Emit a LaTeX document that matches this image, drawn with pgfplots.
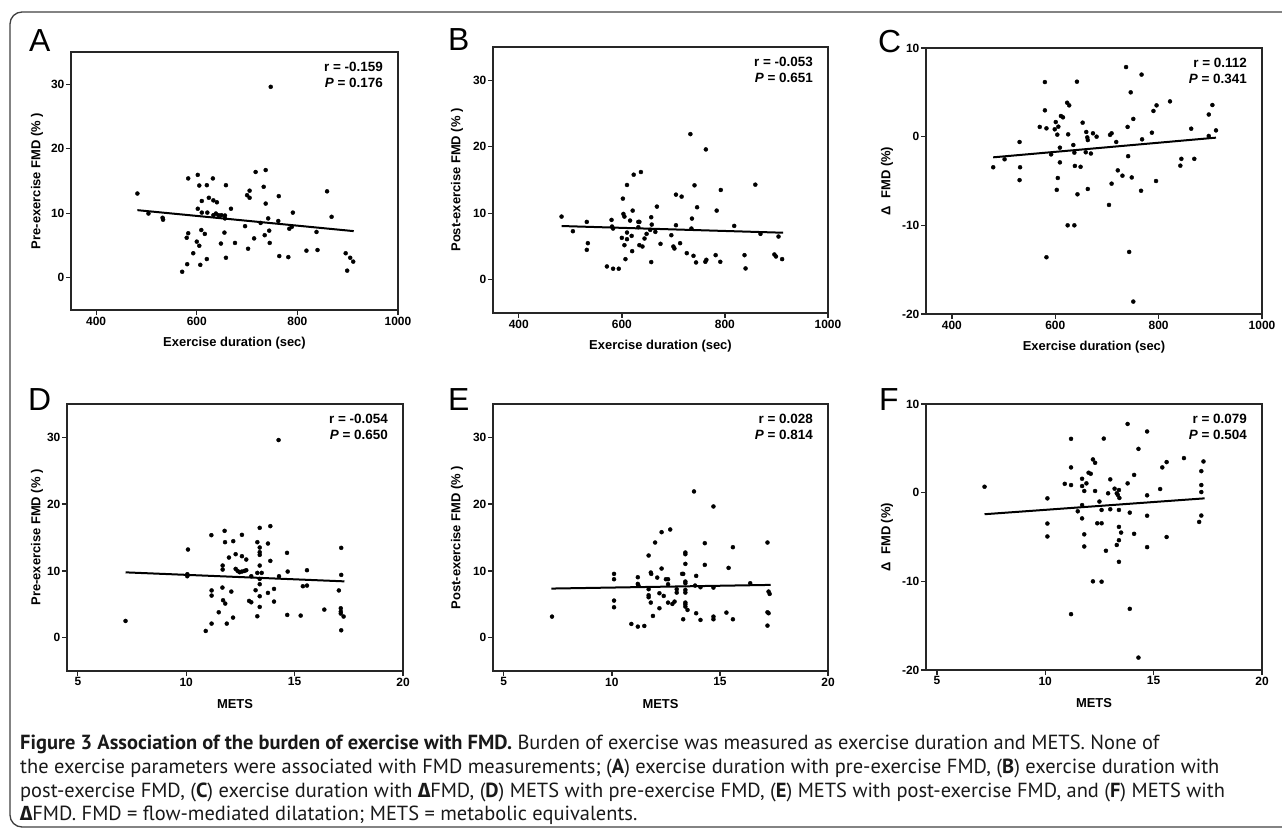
\documentclass[border=0pt]{standalone}
\usepackage{fontspec}
\setmainfont{Liberation Sans}
\newfontfamily\capfont{PT Sans}
\newfontfamily\grk{Fira Sans}
\usepackage{pgfplots}
\pgfplotsset{compat=1.18}

\pgfplotsset{
  panel/.style={
    scale only axis, anchor=south west,
    axis line style={line width=1.6bp, black!85},
    tick pos=left, tick align=outside,
    major tick length=5bp,
    tick style={line width=1.3bp, black!85},
    ticklabel style={font=\fontsize{12}{12}\selectfont\bfseries, inner sep=1.5bp},
    /pgf/number format/assume math mode=true,
    /pgf/number format/1000 sep={},
    label style={font=\fontsize{13}{13}\selectfont\bfseries},
    xlabel style={at={([yshift=-33bp]axis description cs:0.5,0)}, anchor=center},
  },
  dur/.style={xmin=350, xmax=1000, xtick={400,600,800,1000}, xlabel={Exercise duration (sec)}},
  mets/.style={xmin=4.5, xmax=20, xtick={5,10,15,20}, xlabel={METS}},
  fmd/.style={ymin=-5, ymax=35, ytick={0,10,20,30}},
  dfmd/.style={ymin=-20, ymax=10, ytick={-20,-10,0,10}},
  ylab/.style={ylabel style={at={([xshift=-#1bp]axis description cs:0,0.5)}, anchor=center}},
  dots/.style={only marks, mark=*, mark size=2bp, black},
  fit/.style={no marks, line width=2bp, black},
}
\newcommand\stat[2]{\node[anchor=north east, align=right, inner sep=0pt,
  font=\fontsize{13.5}{15.5}\selectfont\bfseries]
  at ([xshift=-15bp,yshift=-10bp]rel axis cs:1,1) {r = #1\\\textit{P} = #2};}

\begin{document}
\begin{tikzpicture}
\useasboundingbox (0,0) rectangle (1282bp,-832bp);
\draw[line width=1.3bp, black!75, rounded corners=12bp]
  (1300bp,-12bp) -- (10bp,-12bp) -- (10bp,-827bp) -- (1300bp,-827bp);

% A
\begin{axis}[panel, dur, fmd, ylab=34, at={(71bp,-310bp)}, width=327bp, height=258bp,
  ylabel={Pre-exercise FMD (\% )}]
\addplot[dots] coordinates {
(482,13.06)(504,9.96)(532,9.3)(533,9.0)(583,15.4)(580,6.2)(583,6.9)(593,3.8)(581,2.1)(571,0.93)
(602,15.95)(605,14.3)(610,11.9)(602,10.7)(610,10.1)(600,5.6)(605,4.96)(609,7.4)(616,6.8)(607,2.0)
(620,2.9)(620,14.35)(621,10.1)(624,12.4)(632,15.4)(633,12.0)(640,11.7)(633,9.7)(638,9.96)(643,9.7)
(649,9.7)(656,9.65)(656,9.2)(648,5.3)(658,14.35)(655,7.0)(658,3.1)(668,10.7)(676,5.4)(696,8.0)
(700,12.8)(705,12.4)(705,13.5)(702,4.5)(714,6.1)(717,16.4)(727,8.5)(733,14.1)(737,16.7)(737,11.5)
(735,6.6)(742,9.2)(744,7.3)(745,5.4)(747,29.6)(763,12.65)(762,8.8)(764,3.36)(782,3.2)(784,7.6)
(789,7.9)(791,10.1)(818,4.2)(838,7.1)(840,4.3)(859,13.4)(868,9.45)(896,3.8)(905,3.1)(911,2.5)
(899,1.1)
};
\addplot[fit] coordinates {(482,10.48)(912,7.23)};
\stat{-0.159}{0.176}
\end{axis}

% B
\begin{axis}[panel, dur, fmd, ylab=36, at={(493bp,-313bp)}, width=335bp, height=266bp,
  ylabel={Post-exercise FMD (\% )}]
\addplot[dots] coordinates {
(483,9.5)(505,7.3)(532,8.7)(534,5.5)(532,4.5)(571,2.0)(583,1.66)(594,1.66)(580,9.0)(581,8.0)
(583,7.7)(602,12.2)(610,14.25)(603,9.9)(605,9.5)(600,6.3)(605,5.2)(607,3.1)(610,7.1)(610,6.1)
(616,8.9)(619,6.6)(620,4.3)(621,10.4)(623,15.8)(637,16.2)(632,8.7)(634,8.7)(632,7.9)(634,5.2)
(640,5.0)(644,6.2)(648,6.9)(655,7.5)(657,9.4)(658,8.3)(657,2.66)(665,7.2)(668,11.0)(675,5.4)
(696,6.7)(700,5.0)(702,4.7)(705,12.8)(705,8.2)(716,12.5)(713,5.5)(726,4.0)(733,21.9)(736,9.2)
(735,7.7)(739,3.6)(741,14.2)(746,10.9)(744,2.6)(763,19.6)(762,2.7)(764,3.0)(782,3.7)(784,10.4)
(791,2.7)(792,13.5)(818,8.1)(838,3.7)(840,1.7)(859,14.3)(869,6.9)(896,3.8)(899,3.5)(904,6.5)
(911,3.1)
};
\addplot[fit] coordinates {(483,8.08)(913,7.07)};
\stat{-0.053}{0.651}
\end{axis}

% C
\begin{axis}[panel, dur, dfmd, ylab=39, at={(926bp,-314bp)}, width=336bp, height=266bp,
  ylabel={Δ\ \ FMD (\%)}]
\addplot[dots] coordinates {
(480,-3.45)(502,-2.55)(531,-0.6)(532,-3.45)(531,-4.9)(570,1.1)(580,6.16)(580,2.97)(583,0.94)(583,-13.6)
(592,-2.0)(599,0.83)(601,1.65)(604,0.23)(606,1.13)(605,-4.66)(603,-6.0)(609,-1.24)(609,-2.9)(611,2.33)
(615,2.18)(623,3.83)(627,3.53)(625,0.26)(624,-10.0)(635,-0.94)(637,-1.8)(637,-10.0)(638,-3.3)(642,6.2)
(643,-6.5)(649,-3.4)(653,1.58)(659,-1.76)(660,0.53)(662,-0.08)(663,-0.38)(663,-5.9)(669,-1.9)(673,0.38)
(680,0)(704,-7.7)(706,0.2)(709,0.38)(709,-5.3)(718,-0.6)(721,-3.8)(730,-4.4)(737,7.85)(740,1.1)
(741,-2.2)(743,-13.0)(746,5.0)(748,-4.6)(751,2.0)(751,-18.6)(766,-6.1)(767,7.0)(768,-0.3)(787,0.45)
(790,2.9)(795,-5.0)(796,3.53)(822,3.98)(842,-3.27)(844,-2.5)(863,0.9)(869,-2.5)(897,2.5)(897,0.08)
(904,3.57)(911,0.71)
};
\addplot[fit] coordinates {(480,-2.33)(911,-0.11)};
\stat{0.112}{0.341}
\end{axis}

% D
\begin{axis}[panel, mets, fmd, ylab=30, at={(67bp,-671bp)}, width=336bp, height=267bp,
  ylabel={Pre-exercise FMD (\% )}]
\addplot[dots] coordinates {
(7.2,2.5)(10.08,13.2)(10.05,9.5)(10.05,9.2)(11.16,15.35)(11.17,7.07)(11.17,6.3)(10.9,1.0)(11.17,2.1)(11.5,3.8)
(11.68,10.8)(11.68,10.2)(11.67,7.5)(11.7,5.6)(11.8,5.1)(11.77,16.0)(11.79,14.3)(11.87,2.1)(11.97,12.0)(12.08,6.9)
(12.16,3.0)(12.17,14.45)(12.28,12.5)(12.28,10.3)(12.37,10.0)(12.46,9.8)(12.57,9.9)(12.69,10.0)(12.77,10.1)(12.57,15.4)
(12.57,12.2)(12.77,11.7)(12.9,5.5)(13.0,5.3)(13.0,9.2)(13.2,7.1)(13.28,14.3)(13.28,9.7)(13.28,3.2)(13.39,16.45)
(13.39,13.5)(13.39,12.8)(13.39,12.4)(13.39,10.8)(13.39,8.8)(13.39,6.2)(13.39,4.6)(13.39,8.0)(13.48,9.7)(13.77,6.7)
(13.77,14.1)(13.88,16.7)(13.88,11.5)(14.05,7.3)(14.05,5.4)(14.26,29.6)(14.28,9.2)(14.65,12.7)(14.68,9.9)(14.66,3.4)
(15.28,3.3)(15.38,7.7)(15.57,7.8)(15.57,10.1)(16.37,4.2)(17.04,7.07)(17.15,13.45)(17.15,9.4)(17.13,4.4)(17.13,3.9)
(17.13,3.6)(17.26,3.16)(17.15,1.1)
};
\addplot[fit] coordinates {(7.2,9.78)(17.3,8.43)};
\stat{-0.054}{0.650}
\end{axis}

% E
\begin{axis}[panel, mets, fmd, ylab=36, at={(493bp,-671bp)}, width=335bp, height=267bp,
  ylabel={Post-exercise FMD (\% )}]
\addplot[dots] coordinates {
(7.23,3.15)(10.1,9.55)(10.1,8.75)(10.1,5.55)(10.1,4.55)(10.9,2.05)(11.2,1.65)(11.5,1.75)(11.2,9.05)(11.2,8.05)
(11.23,7.8)(11.7,12.3)(11.7,7.25)(11.7,6.35)(11.7,6.05)(11.8,9.75)(11.82,9.55)(11.8,5.25)(11.9,3.25)(12.0,14.25)
(12.1,9.0)(12.2,6.65)(12.2,4.4)(12.3,10.35)(12.3,15.8)(12.4,6.25)(12.5,8.75)(12.6,8.75)(12.6,8.0)(12.6,5.25)
(12.7,16.2)(12.8,5.05)(12.9,5.4)(13.0,7.25)(13.0,6.75)(13.25,9.55)(13.3,9.55)(13.3,2.75)(13.4,12.75)(13.4,12.5)
(13.4,11.05)(13.4,8.4)(13.4,8.15)(13.4,7.15)(13.4,6.75)(13.4,5.25)(13.4,5.0)(13.4,4.65)(13.5,4.15)(13.8,21.9)
(13.85,7.8)(13.9,9.25)(13.9,3.65)(14.1,7.55)(14.1,2.65)(14.3,14.15)(14.3,10.9)(14.7,19.65)(14.7,7.5)(14.7,3.15)
(14.7,2.75)(15.3,3.75)(15.4,10.45)(15.6,13.55)(15.6,2.75)(16.4,8.15)(17.2,14.25)(17.2,3.8)(17.25,3.65)(17.2,1.8)
(17.25,6.9)(17.3,6.55)
};
\addplot[fit] coordinates {(7.2,7.35)(17.35,7.9)};
\stat{0.028}{0.814}
\end{axis}

% F
\begin{axis}[panel, mets, dfmd, ylab=39, at={(926bp,-670bp)}, width=336bp, height=266bp,
  ylabel={Δ\ \ FMD (\%)}]
\addplot[dots] coordinates {
(7.2,0.67)(10.1,-0.64)(10.1,-3.48)(10.1,-4.94)(10.9,1.0)(11.19,6.07)(11.19,2.85)(11.19,0.86)(11.19,-13.7)(11.5,-2.1)
(11.7,1.57)(11.7,0.75)(11.7,-1.4)(11.7,-2.9)(11.8,0.19)(11.8,-4.7)(11.8,-6.07)(11.9,1.05)(12.0,2.25)(12.1,2.13)
(12.2,3.75)(12.3,3.37)(12.2,-10.0)(12.3,0.19)(12.4,-3.45)(12.5,-1.0)(12.6,-1.95)(12.6,-3.45)(12.6,-10.04)(12.7,6.1)
(12.8,-6.55)(12.9,-0.07)(13.0,1.5)(13.0,-1.87)(13.2,0.45)(13.3,-0.07)(13.35,-0.26)(13.4,0.3)(13.42,-0.6)(13.3,-5.9)
(13.4,-1.95)(13.4,-3.86)(13.5,-4.5)(13.4,-5.36)(13.4,-7.8)(13.8,7.75)(13.8,1.05)(13.9,-2.25)(13.9,-13.1)(14.1,2.0)
(14.1,-4.64)(14.3,4.94)(14.3,-18.6)(14.7,6.9)(14.7,-0.3)(14.7,-2.6)(14.7,-6.14)(15.3,0.41)(15.4,2.85)(15.6,3.45)
(15.6,-5.0)(16.4,3.9)(17.1,-3.3)(17.2,2.43)(17.2,0.86)(17.2,0.07)(17.2,-2.58)(17.3,3.52)
};
\addplot[fit] coordinates {(7.2,-2.43)(17.35,-0.64)};
\stat{0.079}{0.504}
\end{axis}

% panel letters
\begin{scope}[every node/.style={anchor=base west, inner sep=0pt, font=\fontsize{32}{32}\selectfont}]
\node at (29bp,-51bp) {A};
\node at (448bp,-50bp) {B};
\node at (878bp,-52bp) {C};
\node at (28bp,-410bp) {D};
\node at (448bp,-410bp) {E};
\node at (879bp,-410bp) {F};
\end{scope}

% caption
\begin{scope}[every node/.style={anchor=base west, inner sep=0pt, text=black!90,
  font=\capfont\fontsize{20.5}{24}\selectfont}]
\node at (20bp,-749bp) {\textbf{Figure 3 Association of the burden of exercise with FMD.} Burden of exercise was measured as exercise duration and METS. None of};
\node at (20bp,-773bp) {the exercise parameters were associated with FMD measurements; (\textbf{A}) exercise duration with pre-exercise FMD, (\textbf{B}) exercise duration with};
\node at (20bp,-797bp) {post-exercise FMD, (\textbf{C}) exercise duration with {\grk\bfseries Δ}FMD, (\textbf{D}) METS with pre-exercise FMD, (\textbf{E}) METS with post-exercise FMD, and (\textbf{F}) METS with};
\node at (20bp,-820bp) {{\grk\bfseries Δ}FMD. FMD = flow-mediated dilatation; METS = metabolic equivalents.};
\end{scope}
\end{tikzpicture}
\end{document}
